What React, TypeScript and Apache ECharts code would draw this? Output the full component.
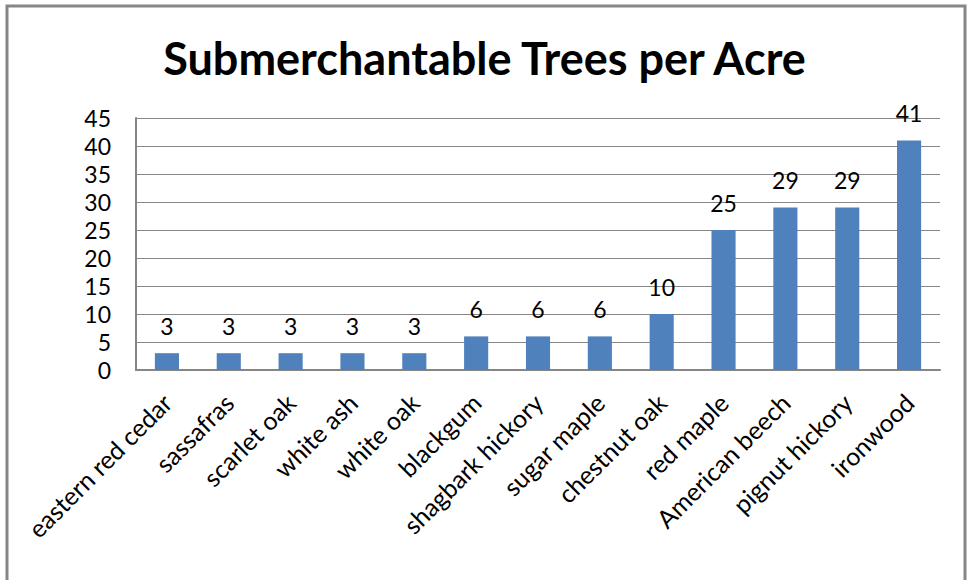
import React, { useEffect, useRef } from "react";
import * as echarts from "echarts";

const titleText = "Submerchantable Trees per Acre";
const categories = [
  "eastern red cedar",
  "sassafras",
  "scarlet oak",
  "white ash",
  "white oak",
  "blackgum",
  "shagbark hickory",
  "sugar maple",
  "chestnut oak",
  "red maple",
  "American beech",
  "pignut hickory",
  "ironwood",
];
const values = [3, 3, 3, 3, 3, 6, 6, 6, 10, 25, 29, 29, 41];
const yMin = 0;
const yMax = 45;
const yStep = 5;

const FONT = "Lato, 'Open Sans', sans-serif";

export default function App() {
  const ref = useRef<HTMLDivElement>(null);
  useEffect(() => {
    document.body.style.margin = "0";
    if (!ref.current) return;
    const chart = echarts.init(ref.current, null, { renderer: "svg" });
    chart.setOption({
      animation: false,
      backgroundColor: "#ffffff",
      textStyle: { fontFamily: FONT },
      title: {
        text: titleText,
        left: "center",
        top: 30,
        textStyle: {
          fontFamily: FONT,
          fontSize: 45,
          fontWeight: "bold",
          color: "#000000",
        },
      },
      graphic: [
        {
          type: "rect",
          shape: { x: 7, y: 6, width: 958, height: 600 },
          style: { fill: "none", stroke: "#868686", lineWidth: 3 },
          silent: true,
        },
      ],
      grid: { left: 136, top: 118, right: 29, bottom: 210, containLabel: false },
      xAxis: {
        type: "category",
        data: categories,
        axisLine: { lineStyle: { color: "#868686", width: 2 } },
        axisTick: { show: false },
        axisLabel: {
          rotate: 45,
          interval: 0,
          margin: 28,
          color: "#000000",
          fontSize: 25,
          fontFamily: FONT,
        },
      },
      yAxis: {
        type: "value",
        min: yMin,
        max: yMax,
        interval: yStep,
        axisLine: { show: true, lineStyle: { color: "#868686", width: 2 } },
        axisTick: { show: false },
        splitLine: { lineStyle: { color: "#868686", width: 1 } },
        axisLabel: {
          color: "#000000",
          fontSize: 23,
          margin: 25,
          fontFamily: FONT,
        },
      },
      series: [
        {
          type: "bar",
          data: values,
          barWidth: "39%",
          itemStyle: { color: "#4F81BD" },
          label: {
            show: true,
            position: "top",
            distance: 16,
            color: "#000000",
            fontSize: 23,
            fontFamily: FONT,
          },
        },
      ],
    });
    return () => chart.dispose();
  }, []);
  return (
    <div
      ref={ref}
      style={{ position: "absolute", left: 0, top: 0, width: 969, height: 580 }}
    />
  );
}
